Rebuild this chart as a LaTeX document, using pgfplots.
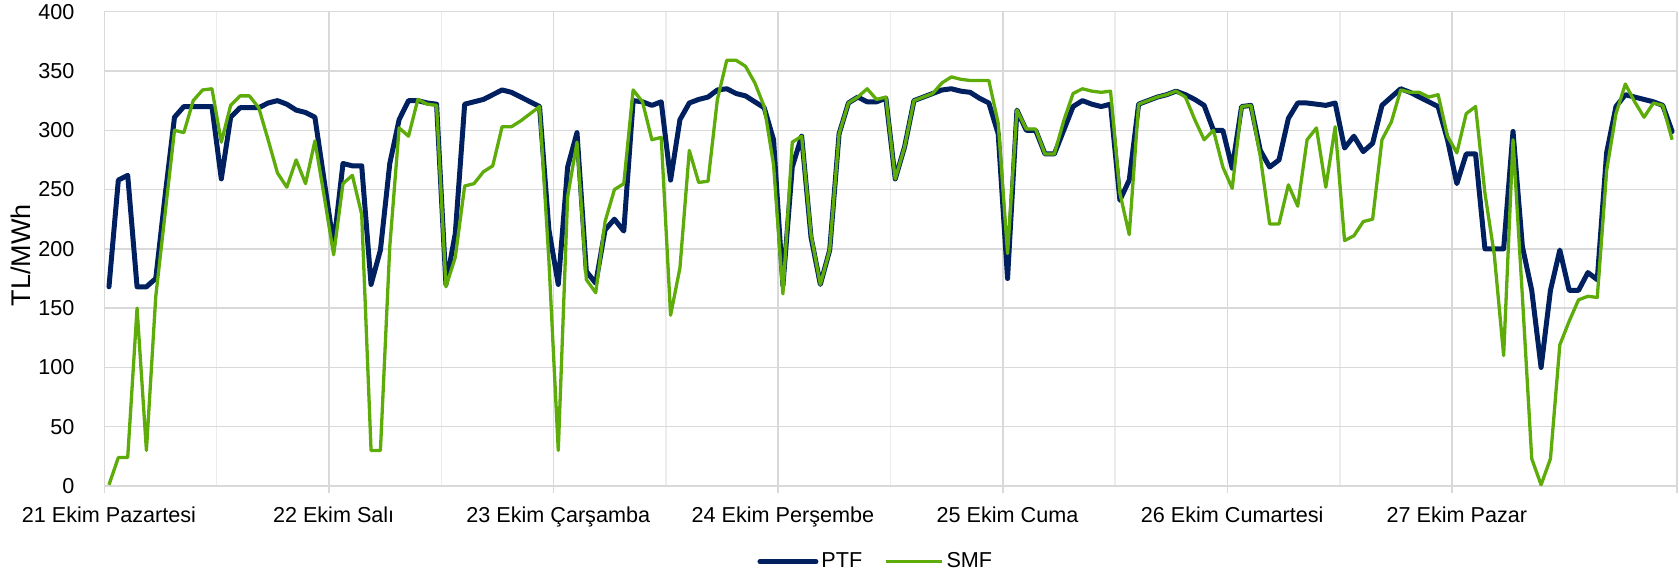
\documentclass[border=0pt]{standalone}
\usepackage{fontspec}
\setmainfont{Liberation Sans}
\usepackage{pgfplots}
\pgfplotsset{compat=1.18}
\usepackage{pgfplotstable}

\definecolor{ptfblue}{HTML}{002060}
\definecolor{smfgreen}{HTML}{5EAC0A}
\definecolor{gridgray}{HTML}{D9D9D9}
\definecolor{gridlight}{HTML}{ECECEC}

% saatlik fiyatlar, 21-27 Ekim (TL/MWh)
\pgfplotstableread{
h ptf smf
0 168 1
1 258 24
2 262 24
3 168 150
4 168 30
5 175 160
6 245 230
7 311 300
8 320 298
9 320 325
10 320 334
11 320 335
12 259 290
13 311 321
14 319 329
15 319 329
16 319 319
17 323 292
18 325 264
19 322 252
20 317 275
21 315 255
22 311 291
23 257 244
24 203 195
25 272 255
26 270 262
27 270 229
28 170 30
29 199 30
30 272 202
31 309 302
32 325 295
33 325 326
34 323 322
35 322 321
36 170 168
37 213 193
38 322 253
39 324 255
40 326 265
41 330 270
42 334 303
43 332 303
44 328 308
45 324 314
46 320 320
47 216 190
48 170 30
49 269 244
50 298 290
51 181 174
52 171 163
53 216 223
54 225 250
55 215 255
56 325 334
57 324 324
58 321 292
59 324 294
60 258 144
61 309 184
62 323 283
63 326 256
64 328 257
65 334 326
66 335 359
67 331 359
68 329 354
69 324 340
70 319 320
71 292 271
72 169 162
73 269 290
74 295 295
75 210 212
76 170 170
77 199 199
78 297 297
79 323 323
80 328 328
81 324 335
82 324 326
83 327 328
84 259 259
85 286 286
86 325 325
87 328 328
88 331 331
89 334 340
90 335 345
91 333 343
92 332 342
93 327 342
94 323 342
95 297 306
96 175 196
97 317 317
98 300 301
99 300 301
100 280 280
101 280 280
102 300 308
103 320 331
104 325 335
105 322 333
106 320 332
107 322 333
108 241 247
109 258 212
110 322 322
111 325 325
112 328 328
113 330 330
114 333 333
115 330 328
116 326 309
117 321 292
118 300 300
119 300 269
120 268 251
121 320 320
122 321 321
123 283 278
124 269 221
125 275 221
126 310 254
127 323 236
128 323 292
129 322 302
130 321 252
131 323 303
132 285 207
133 295 211
134 282 223
135 289 225
136 321 292
137 328 307
138 335 334
139 332 332
140 328 332
141 324 328
142 320 330
143 292 295
144 255 281
145 280 314
146 280 320
147 200 247
148 200 195
149 200 110
150 299 292
151 202 160
152 165 23
153 100 1
154 165 23
155 199 119
156 165 139
157 165 157
158 180 160
159 174 159
160 281 266
161 320 314
162 330 339
163 328 324
164 326 311
165 324 323
166 321 321
167 299 292
}\prices

\begin{document}
\begin{tikzpicture}
\path[use as bounding box] (-52.15pt,-45pt) rectangle (787.35pt,243pt);
\begin{axis}[
  scale only axis,
  width=786.25pt,
  height=237.15pt,
  xmin=-0.5, xmax=167.5,
  ymin=0, ymax=400,
  ytick={0,50,100,150,200,250,300,350,400},
  xtick={-0.5,23.5,47.5,71.5,95.5,119.5,143.5,167.5},
  xticklabels={},
  minor xtick={11.5,35.5,59.5,83.5,107.5,131.5,155.5},
  extra x ticks={0,24,48,72,96,120,144},
  extra x tick labels={21 Ekim Pazartesi,22 Ekim Salı,23 Ekim Çarşamba,24 Ekim Perşembe,25 Ekim Cuma,26 Ekim Cumartesi,27 Ekim Pazar},
  extra x tick style={grid=none, major tick length=0pt},
  xmajorgrids, xminorgrids, ymajorgrids,
  major grid style={gridgray, line width=0.75pt},
  minor grid style={gridlight, line width=0.75pt},
  axis line style={draw=none},
  tick pos=left,
  tick align=outside,
  major tick length=3.75pt,
  minor tick length=0pt,
  xtick style={gridgray, line width=0.75pt},
  ytick style={draw=none},
  /pgf/number format/assume math mode=true,
  ticklabel style={font=\fontsize{10.8}{13}\selectfont, inner sep=0pt},
  xticklabel style={anchor=base, yshift=-18.45pt},
  yticklabel style={anchor=east, xshift=-11pt},
  every axis y label/.style={at={(axis description cs:-0.0529,0.486)}, anchor=center, rotate=90, font=\fontsize{13.5}{16}\selectfont},
  ylabel={TL/MWh},
  legend columns=2,
  legend style={draw=none, fill=none, inner sep=0pt, at={(axis description cs:0.4151,-0.1596)}, anchor=west,
    nodes={inner sep=0pt, font=\fontsize{10.8}{13}\selectfont},
    /tikz/every odd column/.append style={column sep=1.5pt},
    /tikz/every even column/.append style={column sep=11pt}},
  legend image code/.code={\draw[#1] (0pt,0pt) -- (28pt,0pt);},
]
\addplot[ptfblue, line width=2.5pt, line join=round, line cap=round] table[x=h, y=ptf] {\prices};
\addlegendentry{PTF}
\addplot[smfgreen, line width=1.65pt, line join=round] table[x=h, y=smf] {\prices};
\addlegendentry{SMF}
\end{axis}
\end{tikzpicture}
\end{document}
